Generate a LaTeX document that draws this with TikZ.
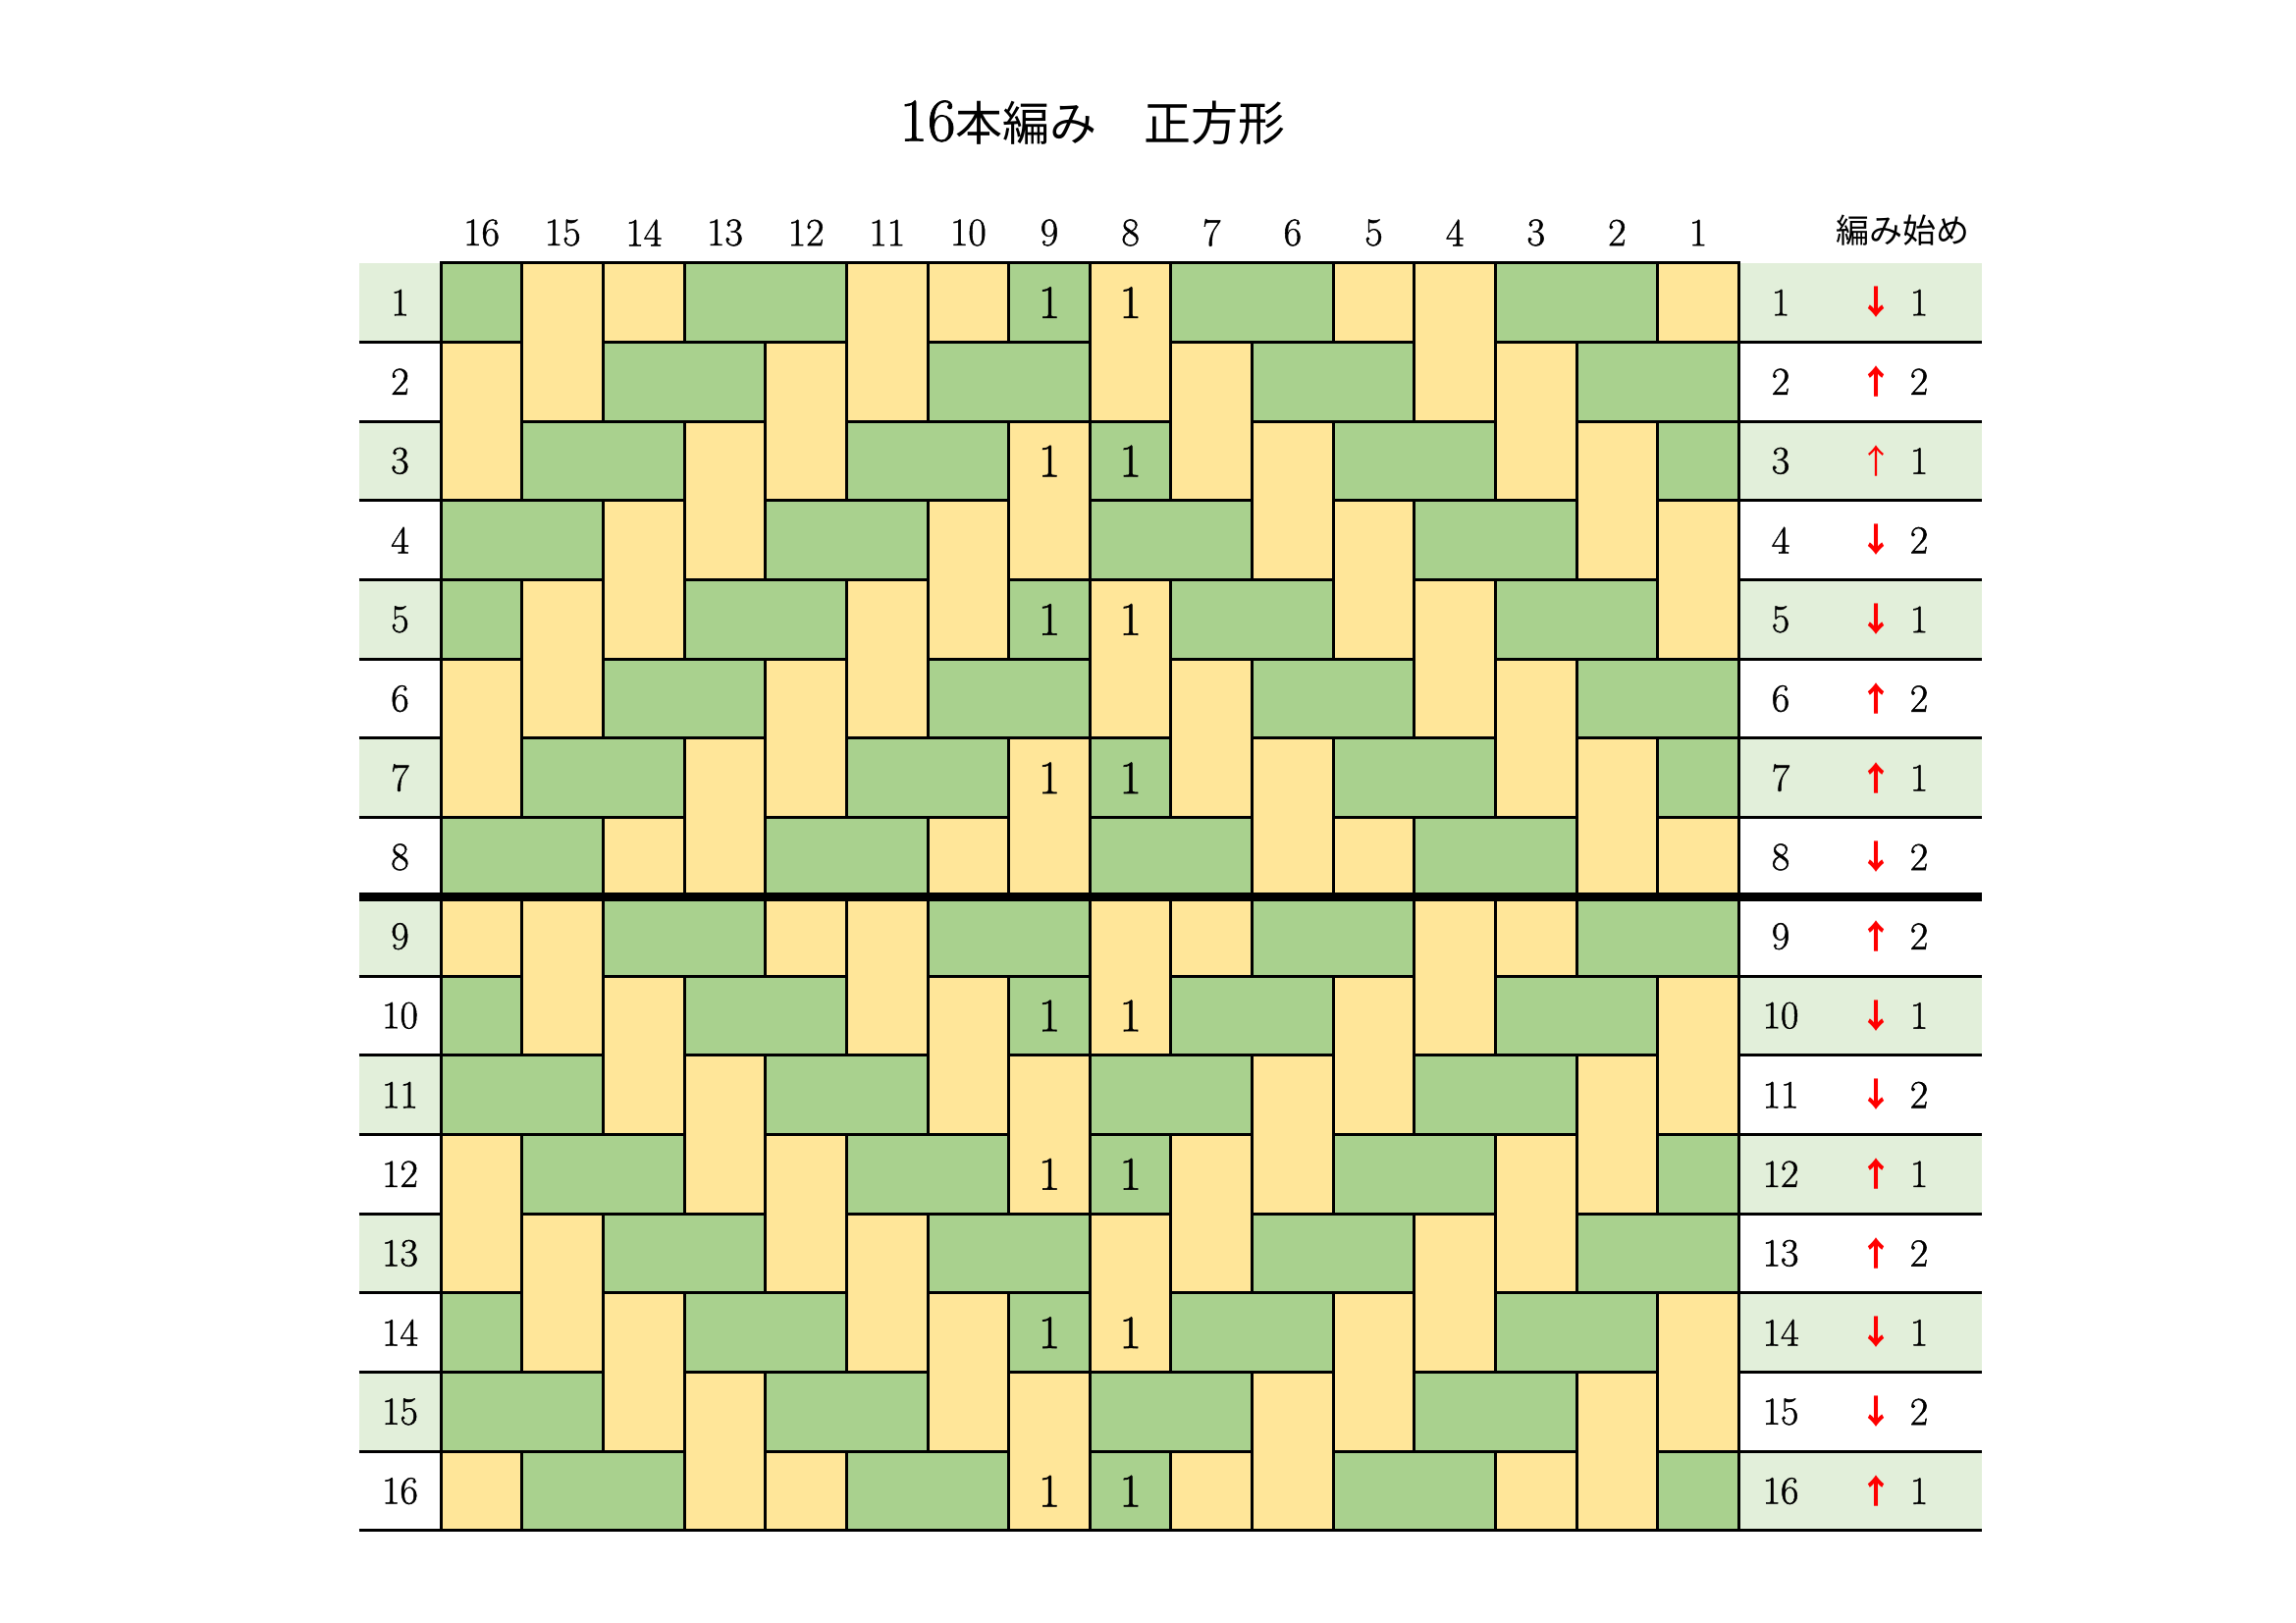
\documentclass[tikz,border=0pt]{standalone}
\usepackage{fontspec}
\newfontfamily\jp{Noto Sans CJK JP}
\newfontfamily\numfont{Latin Modern Roman}[FakeBold=1.2]
\definecolor{cg}{RGB}{169,209,142}
\definecolor{cy}{RGB}{255,230,153}
\definecolor{lg}{RGB}{226,239,218}
\def\gx{449.3}
\def\gy{267.7}
\def\cw{82.625}
\def\rh{80.7}
\def\lx{365.7}
\def\rx{2019.3}
\def\gr{1771.3}
\def\segA{0/1,3/2,7/1,9/2,13/2}
\def\segB{2/2,6/2,10/2,14/2}
\def\segC{1/2,5/2,8/1,11/2,15/1}
\def\segD{0/2,4/2,8/2,12/2}
\tikzset{
  cellline/.style={draw=black,line width=3pt},
  ycell/.style={cellline,fill=cy},
  gcell/.style={cellline,fill=cg},
  num/.style={font=\numfont\fontsize{40}{40}\selectfont,inner sep=0pt},
  bignum/.style={font=\numfont\fontsize{48}{48}\selectfont,inner sep=0pt},
  arr/.style={font=\jp\bfseries\fontsize{34}{34}\selectfont,text=red,inner sep=0pt},
  arrthin/.style={font=\jp\fontsize{34}{34}\selectfont,text=red,inner sep=0pt},
}
\begin{document}
\begin{tikzpicture}[x=1pt,y=-1pt]
\useasboundingbox[fill=white] (0,0) rectangle (2339,1653);
% title
\node (title) at (1113,125) {{\numfont\fontsize{62}{62}\selectfont 16}{\jp\fontsize{48}{48}\selectfont 本編み　正方形}};
% label backgrounds
\foreach \i in {0,2,...,14} {
  \fill[lg] (\lx,{\gy+\i*\rh}) rectangle (\gx,{\gy+(\i+1)*\rh});
}
\foreach \i in {0,2,4,6,9,11,13,15} {
  \fill[lg] (\gr,{\gy+\i*\rh}) rectangle (\rx,{\gy+(\i+1)*\rh});
}
% all cells yellow
\foreach \i in {0,...,15} {
  \foreach \j in {0,...,15} {
    \path[ycell] ({\gx+\j*\cw},{\gy+\i*\rh}) rectangle ({\gx+(\j+1)*\cw},{\gy+(\i+1)*\rh});
  }
}
% vertical yellow pairs
\foreach \i in {0,4,8,12} { \foreach \j in {1,5,8,12} {
  \path[ycell] ({\gx+\j*\cw},{\gy+\i*\rh}) rectangle ({\gx+(\j+1)*\cw},{\gy+(\i+2)*\rh}); } }
\foreach \i in {1,5,11} { \foreach \j in {0,4,9,13} {
  \path[ycell] ({\gx+\j*\cw},{\gy+\i*\rh}) rectangle ({\gx+(\j+1)*\cw},{\gy+(\i+2)*\rh}); } }
\foreach \i in {2,6,10,14} { \foreach \j in {3,7,10,14} {
  \path[ycell] ({\gx+\j*\cw},{\gy+\i*\rh}) rectangle ({\gx+(\j+1)*\cw},{\gy+(\i+2)*\rh}); } }
\foreach \i in {3,9,13} { \foreach \j in {2,6,11,15} {
  \path[ycell] ({\gx+\j*\cw},{\gy+\i*\rh}) rectangle ({\gx+(\j+1)*\cw},{\gy+(\i+2)*\rh}); } }
% green horizontal segments
\foreach \t [count=\i from 0] in {0,1,2,3,0,1,2,3,1,0,3,2,1,0,3,2} {
  \ifcase\t \let\segs\segA \or \let\segs\segB \or \let\segs\segC \or \let\segs\segD \fi
  \foreach \s/\l in \segs {
    \path[gcell] ({\gx+\s*\cw},{\gy+\i*\rh}) rectangle ({\gx+(\s+\l)*\cw},{\gy+(\i+1)*\rh});
  }
}
% label column lines
\foreach \k in {1,...,16} {
  \draw[line width=3pt] (\lx,{\gy+\k*\rh}) -- (\gx,{\gy+\k*\rh});
  \draw[line width=3pt] (\gr,{\gy+\k*\rh}) -- (\rx,{\gy+\k*\rh});
}
\draw[line width=9pt] (\lx,{\gy+8*\rh}) -- (\rx,{\gy+8*\rh});
% column headers
\foreach \j in {0,...,15} {
  \pgfmathtruncatemacro\lab{16-\j}
  \node[num] (h\j) at ({\gx+(\j+0.5)*\cw},237) {\lab};
}
\node[font=\jp\fontsize{34}{34}\selectfont,inner sep=0pt] (start) at (1938,235) {編み始め};
% row labels
\foreach \i in {0,...,15} {
  \pgfmathtruncatemacro\lab{\i+1}
  \node[num] (l\i) at (407.5,{\gy+(\i+0.5)*\rh}) {\lab};
  \node[num] (r\i) at (1814,{\gy+(\i+0.5)*\rh}) {\lab};
}
% arrows and counts
\foreach \i/\a/\c in {0/↓/1,1/↑/2,3/↓/2,4/↓/1,5/↑/2,6/↑/1,7/↓/2,8/↑/2,9/↓/1,10/↓/2,11/↑/1,12/↑/2,13/↓/1,14/↓/2,15/↑/1} {
  \node[arr] (a\i) at (1911,{\gy+(\i+0.5)*\rh}) {\a};
  \node[num] (c\i) at (1955,{\gy+(\i+0.5)*\rh}) {\c};
}
\node[arrthin] (a2) at (1911,{\gy+2.5*\rh}) {↑};
\node[num] (c2) at (1955,{\gy+2.5*\rh}) {1};
% ones in the center
\foreach \i in {0,2,4,6,9,11,13,15} {
  \node[bignum] (o\i a) at ({\gx+7.5*\cw},{\gy+(\i+0.5)*\rh}) {1};
  \node[bignum] (o\i b) at ({\gx+8.5*\cw},{\gy+(\i+0.5)*\rh}) {1};
}
\end{tikzpicture}
\end{document}
